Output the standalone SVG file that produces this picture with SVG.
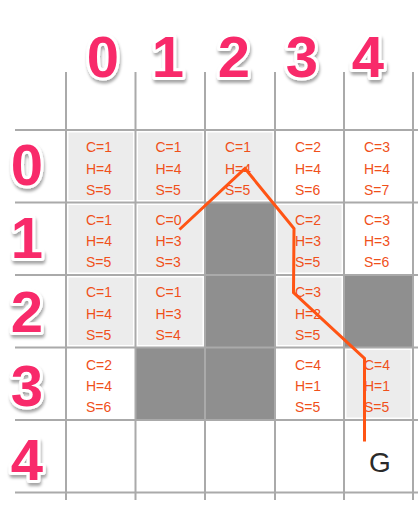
<svg xmlns="http://www.w3.org/2000/svg" width="418" height="512" viewBox="0 0 418 512">
<defs>
<filter id="sh" x="-30%" y="-30%" width="160%" height="160%">
<feDropShadow dx="1" dy="3" stdDeviation="1.6" flood-color="#000" flood-opacity="0.35"/>
</filter>
</defs>
<style>
.lbl{font-family:"Liberation Sans",Arial,sans-serif;font-weight:bold;font-size:58px;fill:#f8296b;stroke:#fff;stroke-width:6;stroke-linejoin:round;paint-order:stroke;filter:url(#sh)}
.t{font-family:"Liberation Sans",Arial,sans-serif;font-size:14px;fill:#f0501a}
.lc{fill:#ececec}
.dk{fill:#8f8f8f}
.g{stroke:#aaa;stroke-width:2;fill:none}
.path{stroke:#ff5414;stroke-width:3;fill:none;stroke-linejoin:miter}
</style>
<rect width="418" height="512" fill="#fff"/>
<g id="headers">
<text class="lbl" x="103" y="77" text-anchor="middle">0</text>
<text class="lbl" x="168" y="77" text-anchor="middle">1</text>
<text class="lbl" x="234" y="77" text-anchor="middle">2</text>
<text class="lbl" x="302" y="77" text-anchor="middle">3</text>
<text class="lbl" x="368" y="77" text-anchor="middle">4</text>
<text class="lbl" x="27" y="185" text-anchor="middle">0</text>
<text class="lbl" x="27" y="258" text-anchor="middle">1</text>
<text class="lbl" x="27" y="332" text-anchor="middle">2</text>
<text class="lbl" x="27" y="406" text-anchor="middle">3</text>
<text class="lbl" x="27" y="480" text-anchor="middle">4</text>
</g>
<g id="cells">
<g id="c00"><rect class="lc" x="68.5" y="132.5" width="64.5" height="67.5"/><text class="t" x="86" y="152">C=1</text><text class="t" x="86" y="173.5">H=4</text><text class="t" x="86" y="194.5">S=5</text></g>
<g id="c01"><rect class="lc" x="138" y="132.5" width="64.5" height="67.5"/><text class="t" x="155.5" y="152">C=1</text><text class="t" x="155.5" y="173.5">H=4</text><text class="t" x="155.5" y="194.5">S=5</text></g>
<g id="c02"><rect class="lc" x="207.5" y="132.5" width="65" height="67.5"/><text class="t" x="225" y="152">C=1</text><text class="t" x="225" y="173.5">H=4</text><text class="t" x="225" y="194.5">S=5</text></g>
<g id="c03"><text class="t" x="295" y="152">C=2</text><text class="t" x="295" y="173.5">H=4</text><text class="t" x="295" y="194.5">S=6</text></g>
<g id="c04"><text class="t" x="364" y="152">C=3</text><text class="t" x="364" y="173.5">H=4</text><text class="t" x="364" y="194.5">S=7</text></g>

<g id="c10"><rect class="lc" x="68.5" y="205" width="64.5" height="67.5"/><text class="t" x="86" y="224.5">C=1</text><text class="t" x="86" y="246">H=4</text><text class="t" x="86" y="267">S=5</text></g>
<g id="c11"><rect class="lc" x="138" y="205" width="64.5" height="67.5"/><text class="t" x="155.5" y="224.5">C=0</text><text class="t" x="155.5" y="246">H=3</text><text class="t" x="155.5" y="267">S=3</text></g>
<g id="c12"><rect class="dk" x="205" y="202.5" width="70" height="72.5"/></g>
<g id="c13"><rect class="lc" x="277.5" y="205" width="64" height="67.5"/><text class="t" x="295" y="224.5">C=2</text><text class="t" x="295" y="246">H=3</text><text class="t" x="295" y="267">S=5</text></g>
<g id="c14"><text class="t" x="364" y="224.5">C=3</text><text class="t" x="364" y="246">H=3</text><text class="t" x="364" y="267">S=6</text></g>

<g id="c20"><rect class="lc" x="68.5" y="277.5" width="64.5" height="67.5"/><text class="t" x="86" y="297">C=1</text><text class="t" x="86" y="318.5">H=4</text><text class="t" x="86" y="339.5">S=5</text></g>
<g id="c21"><rect class="lc" x="138" y="277.5" width="64.5" height="67.5"/><text class="t" x="155.5" y="297">C=1</text><text class="t" x="155.5" y="318.5">H=3</text><text class="t" x="155.5" y="339.5">S=4</text></g>
<g id="c22"><rect class="dk" x="205" y="275" width="70" height="72.5"/></g>
<g id="c23"><rect class="lc" x="277.5" y="277.5" width="64" height="67.5"/><text class="t" x="295" y="297">C=3</text><text class="t" x="295" y="318.5">H=2</text><text class="t" x="295" y="339.5">S=5</text></g>
<g id="c24"><rect class="dk" x="344" y="275" width="69" height="72.5"/></g>

<g id="c30"><text class="t" x="86" y="369.5">C=2</text><text class="t" x="86" y="391">H=4</text><text class="t" x="86" y="412">S=6</text></g>
<g id="c31"><rect class="dk" x="135.5" y="347.5" width="69.5" height="72.5"/></g>
<g id="c32"><rect class="dk" x="205" y="347.5" width="70" height="72.5"/></g>
<g id="c33"><text class="t" x="295" y="369.5">C=4</text><text class="t" x="295" y="391">H=1</text><text class="t" x="295" y="412">S=5</text></g>
<g id="c34"><rect class="lc" x="346.5" y="350" width="64" height="67.5"/><text class="t" x="364" y="369.5">C=4</text><text class="t" x="364" y="391">H=1</text><text class="t" x="364" y="412">S=5</text></g>

<g id="c44"><text x="380" y="471.5" text-anchor="middle" font-family="Liberation Sans, Arial, sans-serif" font-size="28" fill="#2a2a2a">G</text></g>
</g>
<g id="grid">
<path class="g" d="M15,130H418M15,202.5H418M15,275H418M15,347.5H418M15,420H418M15,492.5H418"/>
<path class="g" d="M66,72V500M135.5,72V500M205,72V500M275,72V500M344,72V500M413,72V500"/>
</g>
<g id="connectors">
<path class="path" d="M179.5,229.5L245,168.5L294,228.5L293.5,292.5L364.5,358.5L364.5,441.5"/>
</g>
</svg>
